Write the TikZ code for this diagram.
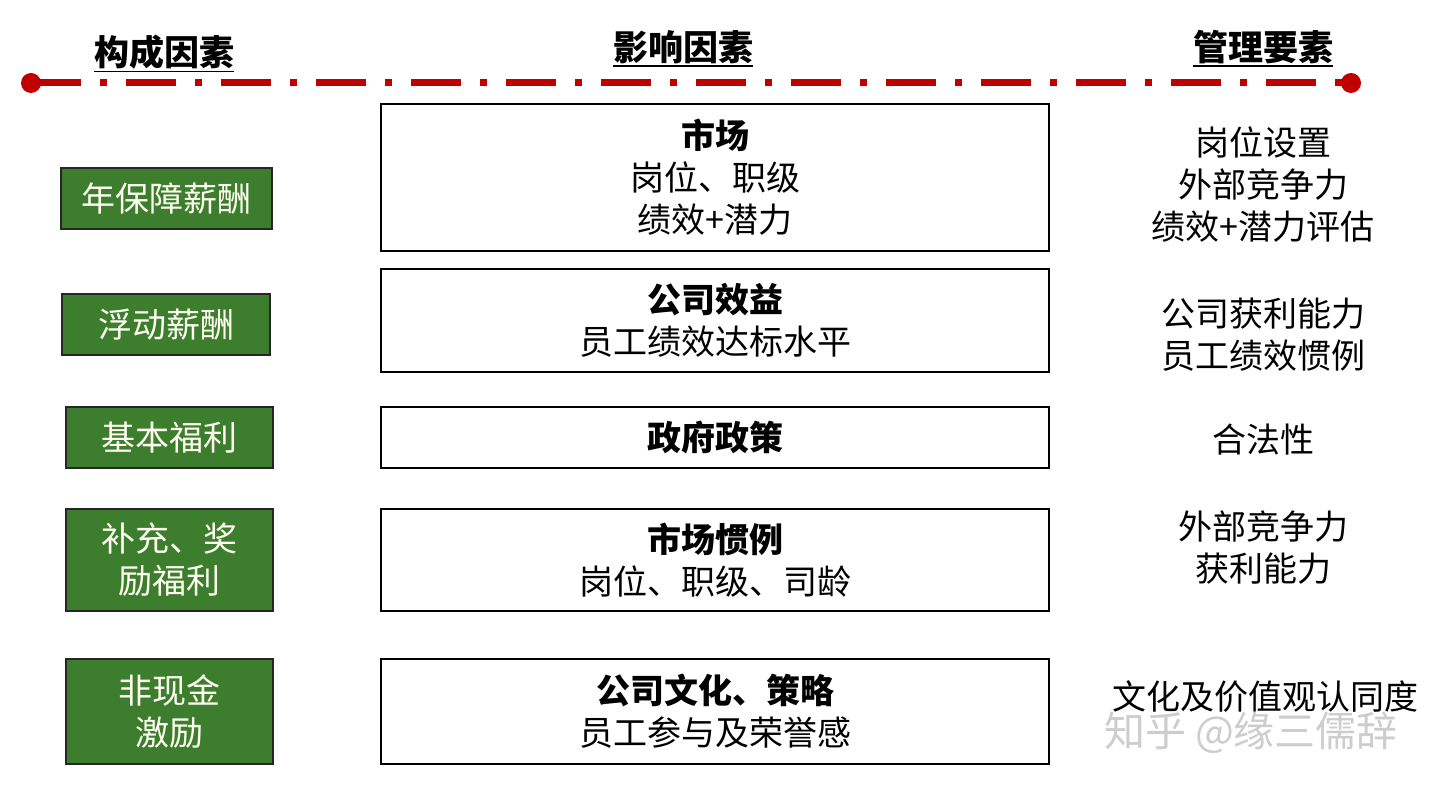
\documentclass[tikz,border=0pt]{standalone}
\usepackage{fontspec}
\newfontfamily\cjk{Noto Sans CJK SC}
\definecolor{dashred}{HTML}{C00000}
\definecolor{boxgreen}{HTML}{3C7E2E}
\definecolor{wmgray}{HTML}{C4C4C4}
\begin{document}
\begin{tikzpicture}[x=1pt,y=-1pt,
  every node/.style={font=\cjk\fontsize{34}{42}\selectfont, inner sep=0pt},
  greenbox/.style={draw=black!85, line width=2pt, fill=boxgreen, text=white!94!yellow, align=center, minimum width=207pt},
  midbox/.style={draw=black, line width=1.6pt, fill=white, align=center, minimum width=668pt},
  righttext/.style={align=center},
  header/.style={font=\cjk\bfseries\fontsize{35}{40}\selectfont}
]
\useasboundingbox (0,0) rectangle (1440,786);
% headers
\node[header] (h1) at (164,52) {构成因素};
\node[header] (h2) at (683,47) {影响因素};
\node[header] (h3) at (1263,47) {管理要素};
\foreach \h in {h1,h2,h3}{
  \draw[line width=1.6pt] ([yshift=-2pt]\h.south west) -- ([yshift=-2pt]\h.south east);
}
% red dash-dot line
\coordinate (L) at (31,83);
\coordinate (R) at (1351,83);
\draw[dashred, line width=7pt, dash pattern=on 50pt off 19pt on 7pt off 19pt] (L) -- (R);
\fill[dashred] (L) circle (10pt);
\fill[dashred] (R) circle (10pt);
% green boxes
\node[greenbox, minimum width=211pt, minimum height=61pt] (g1) at (166.5,198.5) {年保障薪酬};
\node[greenbox, minimum width=208pt, minimum height=61pt] (g2) at (166,324.5) {浮动薪酬};
\node[greenbox, minimum height=61pt] (g3) at (169.5,437.5) {基本福利};
\node[greenbox, minimum height=102pt] (g4) at (169.5,560) {补充、奖\\励福利};
\node[greenbox, minimum height=105pt] (g5) at (169.5,711.5) {非现金\\激励};
% middle boxes
\node[midbox, minimum height=147pt] (m1) at (715,177.5) {\textbf{市场}\\岗位、职级\\绩效+潜力};
\node[midbox, minimum height=103pt] (m2) at (715,320.5) {\textbf{公司效益}\\员工绩效达标水平};
\node[midbox, minimum height=61pt] (m3) at (715,437.5) {\textbf{政府政策}};
\node[midbox, minimum height=102pt] (m4) at (715,560) {\textbf{市场惯例}\\岗位、职级、司龄};
\node[midbox, minimum height=105pt] (m5) at (715,711.5) {\textbf{公司文化、策略}\\员工参与及荣誉感};
% right texts
\node[righttext] (r1) at (1263,185) {岗位设置\\外部竞争力\\绩效+潜力评估};
\node[righttext] (r2) at (1263,335) {公司获利能力\\员工绩效惯例};
\node[righttext] (r3) at (1263,440) {合法性};
\node[righttext] (r4) at (1263,548) {外部竞争力\\获利能力};
\node[righttext] (r5) at (1265,697) {文化及价值观认同度};
% watermark
\node[text=wmgray, opacity=0.85, font=\cjk\fontsize{41}{42}\selectfont] (wm) at (1251,733) {知乎 @缘三儒辞};
\end{tikzpicture}
\end{document}
